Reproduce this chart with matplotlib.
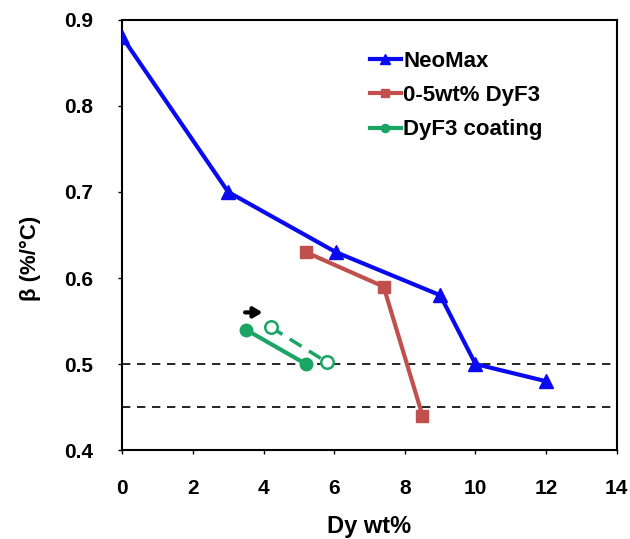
import matplotlib.pyplot as plt

plt.rcParams['font.family'] = ['Liberation Sans', 'DejaVu Sans']
plt.rcParams['font.weight'] = 'bold'

# NeoMax reference series
neo_x = [0, 3, 6.05, 9, 10, 12]
neo_y = [0.88, 0.70, 0.63, 0.58, 0.50, 0.48]

# DyF3 additions 0-5 wt%
add_x = [5.2, 7.4, 8.5]
add_y = [0.63, 0.59, 0.44]

# DyF3 coating (measured, then shifted)
coat_x = [3.5, 5.2]
coat_y = [0.54, 0.50]
shift_x = [4.2, 5.8]
shift_y = [0.543, 0.502]

ref_levels = [0.5, 0.45]

fig = plt.figure(figsize=(6.3, 5.39), dpi=100)
ax = fig.add_axes([0.194, 0.165, 0.785, 0.798])

for lvl in ref_levels:
    ax.axhline(lvl, color='black', ls=(0, (5, 4)), lw=1.2, zorder=1)

ax.plot(neo_x, neo_y, color='#0a0af0', lw=3, marker='^', ms=10, label='NeoMax', zorder=3)
ax.plot(add_x, add_y, color='#c0504d', lw=3, marker='s', ms=8, label='0-5wt% DyF3', zorder=3)
ax.plot(coat_x, coat_y, color='#1aa564', lw=3, marker='o', ms=9, label='DyF3 coating', zorder=3)
ax.plot(shift_x, shift_y, color='#1aa564', lw=2.5, ls=(0, (4, 2.5)), marker='o', ms=9,
        mfc='white', mew=1.8, zorder=2)

# arrow showing the shift of the coated points
ax.annotate('', xy=(4.05, 0.56), xytext=(3.4, 0.56),
            arrowprops=dict(arrowstyle='-|>,head_length=0.5,head_width=0.3', color='black', lw=3))

ax.set_xlim(0, 14)
ax.set_ylim(0.4, 0.9)
ax.set_xticks(range(0, 15, 2))
ax.set_yticks([0.4, 0.5, 0.6, 0.7, 0.8, 0.9])
ax.set_yticklabels(['0.4', '0.5', '0.6', '0.7', '0.8', '0.9'])
ax.tick_params(labelsize=15, direction='out', length=3, width=1)
ax.tick_params(axis='x', pad=18)
ax.tick_params(axis='y', pad=18)
for s in ax.spines.values():
    s.set_linewidth(1.5)

ax.set_xlabel('Dy wt%', fontsize=17, fontweight='bold', labelpad=12)
ax.set_ylabel('β (%/°C)', fontsize=16, fontweight='bold', labelpad=14)
ax.yaxis.set_label_coords(-0.165, 0.445)

leg = ax.legend(loc='upper left', bbox_to_anchor=(0.46, 0.975), frameon=False,
                handlelength=1.4, handletextpad=0.1, labelspacing=0.6, markerscale=0.65,
                prop={'weight': 'bold', 'size': 16})

fig.savefig('out.png', dpi=100)
